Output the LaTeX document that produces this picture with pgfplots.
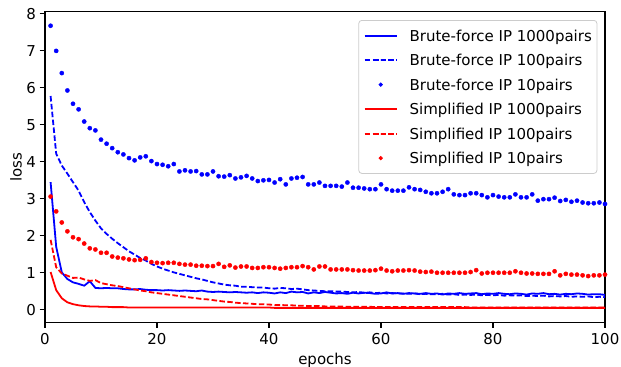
\documentclass[border=0pt]{standalone}
\usepackage{fontspec}
\setmainfont{DejaVu Sans}
\usepackage{pgfplots}
\usepackage{pgfplotstable}
\pgfplotsset{compat=1.18}
\definecolor{mblue}{rgb}{0,0,1}
\definecolor{mred}{rgb}{1,0,0}
\definecolor{legframe}{rgb}{0.8,0.8,0.8}
\pgfplotstableread{
ep bfa bfb bfc sa sb sc
1 3.45 5.78 7.68 1.02 1.89 3.06
2 1.70 4.22 7.00 0.53 1.15 2.66
3 1.01 3.90 6.40 0.31 0.98 2.36
4 0.83 3.68 5.93 0.20 0.92 2.12
5 0.74 3.45 5.57 0.15 0.86 1.96
6 0.70 3.22 5.42 0.12 0.87 1.91
7 0.65 2.91 5.09 0.10 0.82 1.79
8 0.77 2.64 4.91 0.09 0.78 1.66
9 0.59 2.41 4.85 0.09 0.80 1.63
10 0.58 2.20 4.60 0.08 0.72 1.54
11 0.59 2.05 4.49 0.08 0.69 1.54
12 0.58 1.92 4.37 0.07 0.66 1.44
13 0.58 1.80 4.26 0.07 0.64 1.41
14 0.56 1.69 4.20 0.07 0.61 1.39
15 0.55 1.58 4.10 0.06 0.58 1.36
16 0.55 1.49 4.04 0.06 0.55 1.34
17 0.56 1.40 4.12 0.06 0.52 1.35
18 0.54 1.33 4.15 0.06 0.50 1.39
19 0.53 1.24 4.02 0.06 0.47 1.29
20 0.53 1.17 3.94 0.06 0.45 1.27
21 0.52 1.11 3.92 0.06 0.43 1.26
22 0.53 1.06 3.88 0.06 0.41 1.27
23 0.52 1.01 3.94 0.06 0.39 1.27
24 0.51 0.97 3.74 0.06 0.37 1.24
25 0.52 0.93 3.77 0.06 0.35 1.22
26 0.51 0.89 3.74 0.06 0.33 1.22
27 0.50 0.85 3.75 0.06 0.31 1.19
28 0.52 0.82 3.66 0.06 0.29 1.19
29 0.49 0.78 3.66 0.06 0.28 1.18
30 0.48 0.74 3.74 0.06 0.26 1.18
31 0.49 0.71 3.61 0.06 0.24 1.24
32 0.48 0.68 3.60 0.06 0.22 1.16
33 0.47 0.66 3.64 0.06 0.21 1.20
34 0.48 0.65 3.55 0.06 0.19 1.14
35 0.47 0.62 3.58 0.06 0.18 1.17
36 0.46 0.62 3.62 0.06 0.17 1.17
37 0.47 0.61 3.55 0.06 0.16 1.13
38 0.45 0.60 3.48 0.06 0.15 1.13
39 0.47 0.60 3.50 0.06 0.15 1.15
40 0.46 0.58 3.51 0.06 0.14 1.15
41 0.44 0.57 3.44 0.05 0.13 1.13
42 0.47 0.59 3.53 0.05 0.13 1.11
43 0.45 0.58 3.39 0.05 0.12 1.13
44 0.49 0.56 3.55 0.05 0.12 1.15
45 0.47 0.57 3.57 0.05 0.11 1.15
46 0.48 0.55 3.59 0.05 0.11 1.18
47 0.44 0.53 3.39 0.05 0.10 1.15
48 0.47 0.52 3.39 0.05 0.10 1.09
49 0.45 0.51 3.44 0.05 0.10 1.17
50 0.48 0.50 3.35 0.05 0.09 1.17
51 0.46 0.50 3.35 0.05 0.09 1.09
52 0.44 0.49 3.35 0.05 0.09 1.09
53 0.45 0.49 3.33 0.05 0.09 1.09
54 0.43 0.48 3.44 0.05 0.08 1.09
55 0.46 0.47 3.30 0.05 0.08 1.07
56 0.44 0.48 3.30 0.05 0.08 1.06
57 0.46 0.46 3.28 0.05 0.08 1.06
58 0.45 0.47 3.26 0.05 0.08 1.06
59 0.43 0.45 3.26 0.05 0.07 1.07
60 0.44 0.46 3.39 0.05 0.07 1.11
61 0.47 0.44 3.26 0.05 0.07 1.06
62 0.44 0.45 3.22 0.05 0.07 1.04
63 0.45 0.44 3.22 0.05 0.07 1.06
64 0.43 0.44 3.22 0.05 0.07 1.06
65 0.45 0.43 3.31 0.05 0.07 1.07
66 0.44 0.44 3.26 0.05 0.07 1.06
67 0.43 0.42 3.24 0.05 0.07 1.03
68 0.45 0.43 3.19 0.05 0.07 1.02
69 0.43 0.42 3.15 0.05 0.07 1.03
70 0.44 0.42 3.15 0.05 0.07 1.00
71 0.41 0.43 3.19 0.05 0.07 1.00
72 0.44 0.41 3.26 0.05 0.07 1.00
73 0.43 0.42 3.12 0.05 0.07 1.00
74 0.45 0.40 3.10 0.05 0.07 1.00
75 0.43 0.41 3.10 0.05 0.07 1.00
76 0.44 0.40 3.15 0.05 0.06 1.02
77 0.45 0.41 3.15 0.05 0.06 1.07
78 0.42 0.39 3.10 0.05 0.06 0.98
79 0.44 0.40 3.04 0.05 0.06 1.00
80 0.43 0.39 3.10 0.05 0.06 1.00
81 0.45 0.40 3.06 0.05 0.06 1.00
82 0.43 0.38 3.04 0.05 0.06 1.00
83 0.42 0.39 3.04 0.05 0.06 1.00
84 0.44 0.38 3.12 0.05 0.06 1.04
85 0.43 0.39 3.04 0.05 0.06 1.00
86 0.41 0.37 3.04 0.05 0.06 0.98
87 0.44 0.38 3.12 0.05 0.06 0.98
88 0.43 0.37 2.95 0.05 0.06 0.97
89 0.45 0.38 2.99 0.05 0.06 0.97
90 0.42 0.36 2.99 0.05 0.06 0.97
91 0.43 0.37 3.03 0.05 0.06 1.04
92 0.41 0.36 2.94 0.05 0.06 0.93
93 0.43 0.37 2.97 0.05 0.06 0.97
94 0.42 0.35 2.92 0.05 0.06 0.95
95 0.44 0.36 2.95 0.05 0.06 0.95
96 0.43 0.35 2.90 0.05 0.06 0.93
97 0.41 0.36 2.88 0.05 0.06 0.91
98 0.42 0.34 2.88 0.05 0.06 0.93
99 0.42 0.35 2.90 0.05 0.06 0.93
100 0.40 0.34 2.86 0.05 0.06 0.95
}\losstable
\begin{document}
\begin{tikzpicture}
\useasboundingbox (-45bp,-44.7bp) rectangle (576bp,322.3bp);
\begin{axis}[
  at={(0,0)}, anchor=south west,
  scale only axis,
  width=560bp, height=310.6bp,
  xmin=0, xmax=100, ymin=-0.34, ymax=8.06,
  xtick={0,20,40,60,80,100},
  ytick={0,1,2,3,4,5,6,7,8},
  tick pos=left,
  tick align=outside,
  major tick length=5.25bp,
  every tick/.style={black, line width=1.1bp},
  axis line style={black, line width=1.1bp},
  /pgf/number format/assume math mode=true,
  tick label style={font=\fontsize{15bp}{18bp}\selectfont},
  xticklabel style={anchor=north, inner sep=0pt, yshift=-5.25bp},
  yticklabel style={anchor=east, inner sep=0pt, xshift=-3.75bp},
  xlabel={epochs}, ylabel={loss},
  every axis x label/.style={at={(axis description cs:0.5,-0.1343)}, anchor=base, font=\fontsize{15bp}{18bp}\selectfont},
  every axis y label/.style={at={(axis description cs:-0.0416,0.5)}, rotate=90, anchor=base, font=\fontsize{15bp}{18bp}\selectfont},
  legend cell align=left,
  legend image code/.code={\draw[mark repeat=2,mark phase=2] plot coordinates {(0bp,0bp) (16bp,0bp) (32bp,0bp)};},
  legend image post style={mark size=1.7bp},
  legend style={
    at={(1,1)}, anchor=north east, xshift=-7.7bp, yshift=-8.3bp,
    draw=legframe, line width=0.8bp, rounded corners=3bp, fill=white,
    inner xsep=5bp, inner ysep=3bp,
    column sep=12bp, row sep=0pt,
    nodes={inner sep=0pt, text height=17.75bp, text depth=6.75bp, font=\fontsize{15bp}{18bp}\selectfont},
  },
]
\addplot[mblue, line width=1.8bp, no marks] table[x=ep, y=bfa] {\losstable};
\addlegendentry{Brute-force IP 1000pairs}
\addplot[mblue, line width=1.8bp, no marks, dash pattern=on 5.5bp off 2.4bp] table[x=ep, y=bfb] {\losstable};
\addlegendentry{Brute-force IP 100pairs}
\addplot[mblue, only marks, mark=*, mark size=2.1bp, mark options={draw=none, fill=mblue}] table[x=ep, y=bfc] {\losstable};
\addlegendentry{Brute-force IP 10pairs}
\addplot[mred, line width=1.8bp, no marks] table[x=ep, y=sa] {\losstable};
\addlegendentry{Simplified IP 1000pairs}
\addplot[mred, line width=1.8bp, no marks, dash pattern=on 5.5bp off 2.4bp] table[x=ep, y=sb] {\losstable};
\addlegendentry{Simplified IP 100pairs}
\addplot[mred, only marks, mark=*, mark size=2.1bp, mark options={draw=none, fill=mred}] table[x=ep, y=sc] {\losstable};
\addlegendentry{Simplified IP 10pairs}
\end{axis}
\end{tikzpicture}
\end{document}
